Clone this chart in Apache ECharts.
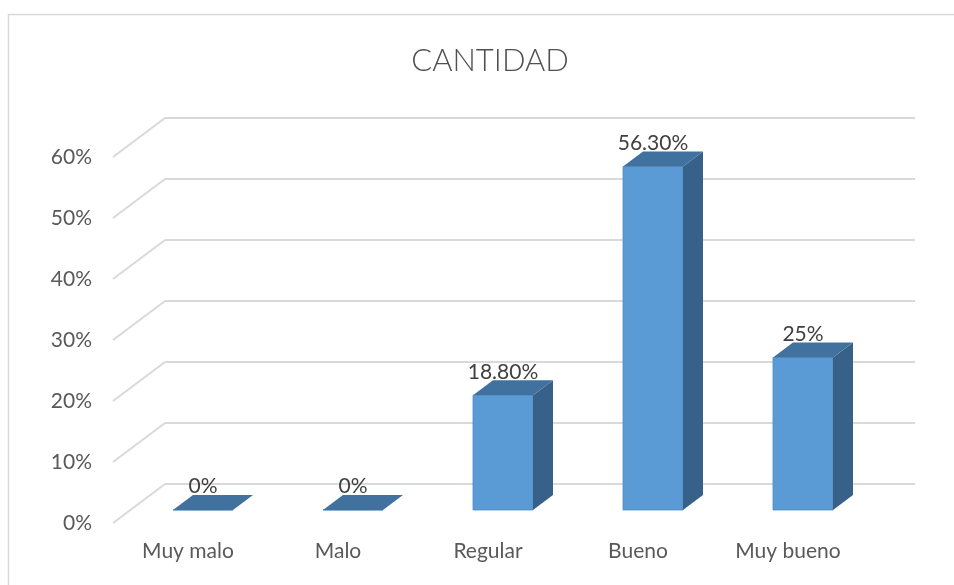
<!DOCTYPE html>
<html>
<head>
<meta charset="utf-8">
<script src="https://cdn.jsdelivr.net/npm/echarts@6/dist/echarts.min.js"></script>
<style>
  html, body { margin: 0; padding: 0; background: #fff; }
  #chart { width: 954px; height: 585px; }
</style>
</head>
<body>
<div id="chart"></div>
<script>
const categories = ['Muy malo', 'Malo', 'Regular', 'Bueno', 'Muy bueno'];
const values = [0, 0, 18.8, 56.3, 25];
const valueLabels = ['0%', '0%', '18.80%', '56.30%', '25%'];
const yTicks = [0, 10, 20, 30, 40, 50, 60];

// oblique depth offsets (px)
const wallDx = 52, wallDy = -39;
const barDx = 15, barDy = -13;
const sideDx = 20, sideDy = -15;

const chart = echarts.init(document.getElementById('chart'));

const option = {
  backgroundColor: '#fff',
  animation: false,
  title: {
    text: 'CANTIDAD',
    left: 485,
    textAlign: 'center',
    top: 40,
    textStyle: { fontFamily: 'Lato', fontSize: 31, fontWeight: 300, color: '#505050' }
  },
  graphic: [{
    type: 'rect',
    shape: { x: 8.5, y: 14.5, width: 1000, height: 700 },
    style: { fill: 'none', stroke: '#d9d9d9', lineWidth: 1.5 },
    z: -10
  }],
  grid: { left: 113, right: 91, top: 157, bottom: 62 },
  xAxis: {
    type: 'category',
    data: categories,
    axisLine: { show: false },
    axisTick: { show: false },
    axisLabel: { margin: 18, fontFamily: 'Lato', fontSize: 21, color: '#595959' }
  },
  yAxis: {
    type: 'value',
    min: 0, max: 60, interval: 10,
    splitLine: { show: false },
    axisLine: { show: false },
    axisTick: { show: false },
    axisLabel: { margin: 21, formatter: '{value}%', fontFamily: 'Lato', fontSize: 21, color: '#595959' }
  },
  series: [
    {
      type: 'custom',
      silent: true,
      z: 1,
      data: yTicks.map(t => [0, t]),
      renderItem: (params, api) => {
        const cs = params.coordSys;
        const y = api.coord([0, api.value(1)])[1];
        const x0 = cs.x, x1 = cs.x + wallDx, x2 = cs.x + cs.width + wallDx;
        const style = { stroke: '#d9d9d9', lineWidth: 2, fill: 'none' };
        return {
          type: 'group',
          children: [
            { type: 'line', shape: { x1: x0, y1: y, x2: x1, y2: y + wallDy }, style },
            { type: 'line', shape: { x1: x1, y1: y + wallDy, x2: x2, y2: y + wallDy }, style }
          ]
        };
      }
    },
    {
      type: 'custom',
      z: 5,
      data: values.map((v, i) => [i, v]),
      renderItem: (params, api) => {
        const idx = api.value(0);
        const base = api.coord([idx, 0]);
        const top = api.coord([idx, api.value(1)]);
        const w = api.size([1, 0])[0] * 0.4;
        const xl = base[0] + barDx - w / 2;
        const xr = xl + w;
        const yb = base[1] + barDy;
        const yt = top[1] + barDy;
        return {
          type: 'group',
          children: [
            {
              type: 'rect',
              shape: { x: xl, y: yt, width: w, height: yb - yt },
              style: { fill: '#5b9bd5', stroke: '#4f8ac0', lineWidth: 0.8 }
            },
            {
              type: 'polygon',
              shape: { points: [[xr, yt], [xr + sideDx, yt + sideDy], [xr + sideDx, yb + sideDy], [xr, yb]] },
              style: { fill: '#386189' }
            },
            {
              type: 'polygon',
              shape: { points: [[xl, yt], [xr, yt], [xr + sideDx, yt + sideDy], [xl + sideDx, yt + sideDy]] },
              style: { fill: '#41729f' }
            },
            {
              type: 'text',
              style: {
                x: xl + w / 2,
                y: yt + sideDy + 2,
                text: valueLabels[params.dataIndex],
                align: 'center',
                verticalAlign: 'bottom',
                fontFamily: 'Lato',
                fontSize: 21,
                fill: '#404040'
              }
            }
          ]
        };
      }
    }
  ]
};

chart.setOption(option);
</script>
</body>
</html>
